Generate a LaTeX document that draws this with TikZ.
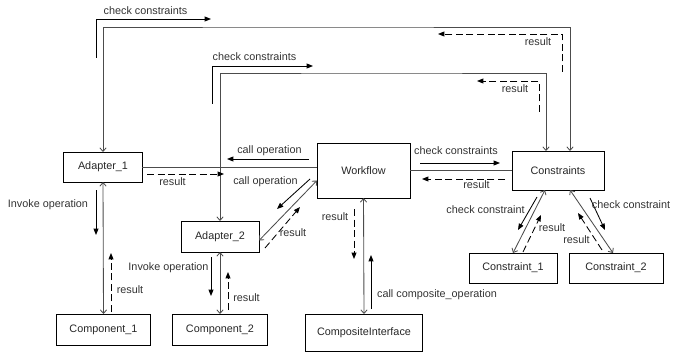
\documentclass[tikz,border=0pt]{standalone}
\usepackage{fontspec}
\setmainfont{Liberation Sans}
\usetikzlibrary{arrows.meta}

\begin{document}
\begin{tikzpicture}[x=0.025cm, y=-0.025cm,
    font=\fontsize{7.7}{9}\selectfont,
    box/.style={draw=black, line width=0.7pt, inner sep=0pt, outer sep=0pt, text=black!85},
    line/.style={draw=black!70, line width=0.6pt},
    link/.style={line, {Straight Barb[length=2.5pt,width=4.5pt]}-{Straight Barb[length=2.5pt,width=4.5pt]}},
    msg/.style={draw=black, line width=0.6pt, -{Triangle[length=4.5pt,width=3.5pt]}},
    reply/.style={msg, dash pattern=on 5pt off 2.5pt},
    lbl/.style={text=black!80, inner sep=0pt}]

  \useasboundingbox (0,0) rectangle (683,354);

  % Boxes.
  \node[box, minimum width=1.95cm, minimum height=0.75cm] (adapter1) at (103,167) {Adapter\_1};
  \node[box, minimum width=1.95cm, minimum height=0.775cm] (adapter2) at (220,236.5) {Adapter\_2};
  \node[box, minimum width=2.325cm, minimum height=1.375cm] (workflow) at (363.5,170.5) {Workflow};
  \node[box, minimum width=2.3cm, minimum height=0.975cm] (constraints) at (558,170.5) {Constraints};
  \node[box, minimum width=2.2cm, minimum height=0.75cm] (constraint1) at (513,268) {Constraint\_1};
  \node[box, minimum width=2.35cm, minimum height=0.75cm] (constraint2) at (616,268) {Constraint\_2};
  \node[box, minimum width=2.325cm, minimum height=0.775cm] (component1) at (103.5,329.5) {Component\_1};
  \node[box, minimum width=2.35cm, minimum height=0.775cm] (component2) at (220,329.5) {Component\_2};
  \node[box, minimum width=2.9cm, minimum height=0.925cm] (composite) at (364,332.5) {CompositeInterface};

  % Connectors between the boxes.
  \coordinate (route1) at (300,27);
  \coordinate (route2) at (380,73);
  \draw[link] (adapter1.north) |- (route1) -| ([shift={(12,0)}]constraints.north);
  \draw[link] (adapter2.north) |- (route2) -| ([shift={(-12,0)}]constraints.north);
  \draw[line] (adapter1.east) -- (adapter1.east -| workflow.west);
  \draw[line] (workflow.east) -- (constraints.west);
  \draw[link] ([shift={(0,4)}]adapter2.east) -- ([shift={(0,10)}]workflow.west);
  \draw[link] (workflow.south) -- (composite.north);
  \draw[link] (adapter1.south) -- (component1.north);
  \draw[link] (adapter2.south) -- (component2.north);
  \draw[link] ([shift={(-13,0)}]constraints.south) -- (constraint1.north);
  \draw[link] ([shift={(12,0)}]constraints.south) -- ([shift={(-3,0)}]constraint2.north);

  % End points of the message arrows.
  \coordinate (chkA1) at (96,58);   \coordinate (chkA2) at (211,19);
  \coordinate (chkB1) at (212,104); \coordinate (chkB2) at (313,66);
  \coordinate (chkC1) at (420,163); \coordinate (chkC2) at (500,163);
  \coordinate (chkD1) at (537,197); \coordinate (chkD2) at (518,230);
  \coordinate (chkE1) at (590,198); \coordinate (chkE2) at (605,230);
  \coordinate (resA1) at (562,72);  \coordinate (resA2) at (438,34);
  \coordinate (resB1) at (539,112); \coordinate (resB2) at (477,81);
  \coordinate (resC1) at (505,179); \coordinate (resC2) at (422,179);
  \coordinate (resD1) at (265,248); \coordinate (resD2) at (300,207);
  \coordinate (resE1) at (111,312); \coordinate (resE2) at (111,253);
  \coordinate (resF1) at (228,310); \coordinate (resF2) at (228,272);
  \coordinate (resG1) at (354,209); \coordinate (resG2) at (354,259);
  \coordinate (resH1) at (523,252); \coordinate (resH2) at (541,215);
  \coordinate (resI1) at (602,250); \coordinate (resI2) at (578,213);
  \coordinate (resJ1) at (147,174); \coordinate (resJ2) at (224,174);
  \coordinate (callA1) at (309,159); \coordinate (callA2) at (227,159);
  \coordinate (callB1) at (310,179); \coordinate (callB2) at (277,209);
  \coordinate (callC1) at (371,309); \coordinate (callC2) at (371,255);
  \coordinate (invA1) at (96,190);  \coordinate (invA2) at (96,235);
  \coordinate (invB1) at (211,257); \coordinate (invB2) at (211,296);

  % Calls.
  \draw[msg] (chkA1) |- (chkA2);
  \draw[msg] (chkB1) |- (chkB2);
  \draw[msg] (chkC1) -- (chkC2);
  \draw[msg] (chkD1) -- (chkD2);
  \draw[msg] (chkE1) -- (chkE2);
  \draw[msg] (callA1) -- (callA2);
  \draw[msg] (callB1) -- (callB2);
  \draw[msg] (callC1) -- (callC2);
  \draw[msg] (invA1) -- (invA2);
  \draw[msg] (invB1) -- (invB2);

  % Results.
  \draw[reply] (resA1) |- (resA2);
  \draw[reply] (resB1) |- (resB2);
  \draw[reply] (resC1) -- (resC2);
  \draw[reply] (resD1) -- (resD2);
  \draw[reply] (resE1) -- (resE2);
  \draw[reply] (resF1) -- (resF2);
  \draw[reply] (resG1) -- (resG2);
  \draw[reply] (resH1) -- (resH2);
  \draw[reply] (resI1) -- (resI2);
  \draw[reply] (resJ1) -- (resJ2);

  % Text annotations.
  \node[lbl] (lchkA) at (145.5,11) {check constraints};
  \node[lbl] (lchkB) at (254.5,57) {check constraints};
  \node[lbl] (lchkC) at (456,151) {check constraints};
  \node[lbl] (lchkD) at (485.5,210) {check constraint};
  \node[lbl] (lchkE) at (631,205) {check constraint};
  \node[lbl] (lresA) at (538,42) {result};
  \node[lbl] (lresB) at (515,89) {result};
  \node[lbl] (lresC) at (476.5,185) {result};
  \node[lbl] (lresD) at (293,233) {result};
  \node[lbl] (lresE) at (130,290) {result};
  \node[lbl] (lresF) at (246.5,298) {result};
  \node[lbl] (lresG) at (335,217) {result};
  \node[lbl] (lresH) at (552,228) {result};
  \node[lbl] (lresI) at (576.5,240) {result};
  \node[lbl] (lresJ) at (172.5,182) {result};
  \node[lbl] (lcallA) at (269.5,151) {call operation};
  \node[lbl] (lcallB) at (265.5,182) {call operation};
  \node[lbl] (lcallC) at (437,295) {call composite\_operation};
  \node[lbl] (linvA) at (48,205) {Invoke operation};
  \node[lbl] (linvB) at (168.5,268) {Invoke operation};

\end{tikzpicture}
\end{document}
